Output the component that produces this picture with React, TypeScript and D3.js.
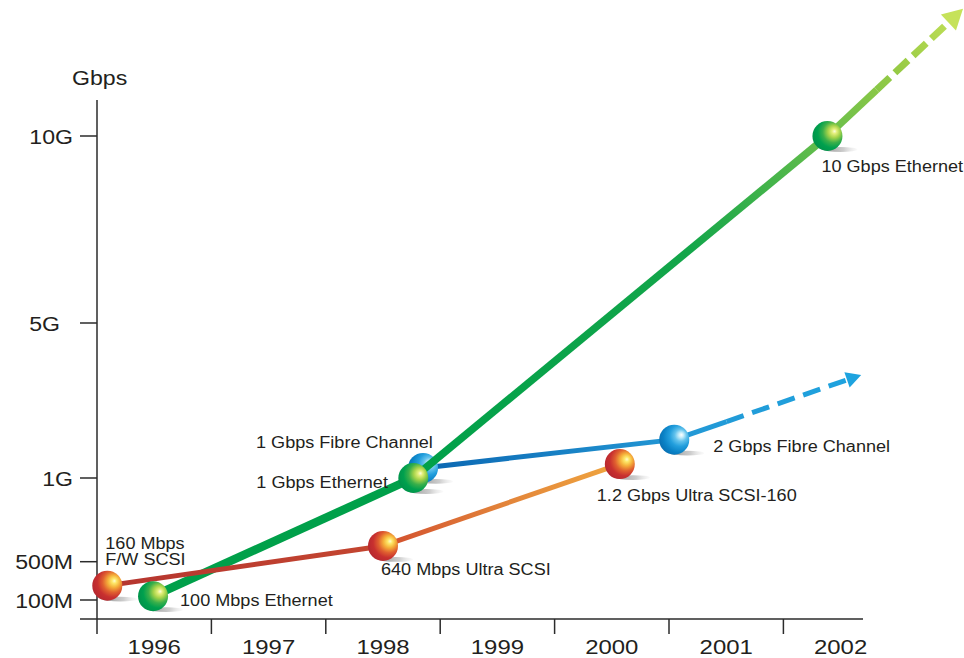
import React from 'react';
import * as d3 from 'd3';

// ---------- data ----------
const yTickValues = [0.1, 0.5, 1, 5, 10]; // Gbps
const yTickLabels = ['100M', '500M', '1G', '5G', '10G'];
const years = [1996, 1997, 1998, 1999, 2000, 2001, 2002];

// Ethernet milestones (fractional year, Gbps)
const ethernetX = [1996.49, 1998.765, 2002.385];
const ethernetY = [0.14, 1.0, 10.0];
const ethernetLabels = ['100 Mbps Ethernet', '1 Gbps Ethernet', '10 Gbps Ethernet'];
const ethernetTrend = [2003.57, 13.4];

// SCSI milestones
const scsiX = [1996.09, 1998.5, 2000.57];
const scsiY = [0.25, 0.594, 1.36];
const scsiLabels = ['160 Mbps\nF/W SCSI', '640 Mbps Ultra SCSI', '1.2 Gbps Ultra SCSI-160'];

// Fibre Channel milestones
const fcX = [1998.85, 2001.046];
const fcY = [1.26, 1.99];
const fcLabels = ['1 Gbps Fibre Channel', '2 Gbps Fibre Channel'];
const fcTrend = [2002.68, 3.66];

// ---------- layout ----------
const W = 964;
const H = 658;
const FONT = "'Liberation Sans', Arial, Helvetica, sans-serif";
const INK = '#231f20';

const x = d3.scaleLinear().domain([1996, 2003]).range([97, 897.8]);
const y = d3.scaleLinear().domain(yTickValues).range([600, 561.7, 478, 323, 136]);

// label offsets relative to their point (screen px)
const ethOff = [[27, 9.5], [-157, 10], [-6, 35.5]];
const scsiOff = [[-2, -36.5], [-2, 29], [-23, 37]];
const fcOff = [[-167, -20], [39, 12.5]];

const Txt = ({ x: tx, y: ty, size, sx = 1.13, anchor = 'start', children }: any) => (
  <text
    transform={`translate(${tx},${ty}) scale(${sx},1)`}
    fontSize={size}
    textAnchor={anchor}
    fontFamily={FONT}
    fill={INK}
  >
    {children}
  </text>
);

const Sphere = ({ cx, cy, grad }: any) => (
  <g>
    <ellipse cx={cx + 13} cy={cy + 13.5} rx={17} ry={2.4} fill="url(#shadowGrad)" />
    <circle cx={cx} cy={cy} r={15} fill={`url(#${grad})`} />
  </g>
);

function trendParts(p0: number[], tip: number[], solidFrac: number, headLen: number, headHalf: number) {
  const [x0, y0] = [x(p0[0]), y(p0[1])];
  const [x1, y1] = [x(tip[0]), y(tip[1])];
  const dx = x1 - x0;
  const dy = y1 - y0;
  const L = Math.hypot(dx, dy);
  const ux = dx / L;
  const uy = dy / L;
  const sx = x0 + dx * solidFrac;
  const sy = y0 + dy * solidFrac;
  const bx = x1 - ux * headLen;
  const by = y1 - uy * headLen;
  const nx = -uy;
  const ny = ux;
  const head = [
    [x1, y1],
    [bx + nx * headHalf, by + ny * headHalf],
    [bx - nx * headHalf, by - ny * headHalf],
  ];
  return {
    solid: d3.line()([[x0, y0], [sx, sy]]) as string,
    dashed: d3.line()([[sx, sy], [bx + ux * 2, by + uy * 2]]) as string,
    head: head.map((p) => p.join(',')).join(' '),
  };
}

const BallGrad = ({ id, stops }: any) => (
  <radialGradient id={id} cx="0.66" cy="0.4" r="0.78" fx="0.74" fy="0.34">
    {stops.map((s: any, i: number) => (
      <stop key={i} offset={s[0]} stopColor={s[1]} />
    ))}
  </radialGradient>
);

export default function App() {
  const eth = ethernetX.map((v, i) => [x(v), y(ethernetY[i])]);
  const scsi = scsiX.map((v, i) => [x(v), y(scsiY[i])]);
  const fc = fcX.map((v, i) => [x(v), y(fcY[i])]);
  const line = d3.line();

  const ethTrend = trendParts([ethernetX[2], ethernetY[2]], ethernetTrend, 0.363, 20, 11);
  const fcTr = trendParts([fcX[1], fcY[1]], fcTrend, 0.28, 15, 8);
  const ethTip = [x(ethernetTrend[0]), y(ethernetTrend[1])];
  const fcTip = [x(fcTrend[0]), y(fcTrend[1])];

  const yTickLen = 17;
  const axisX = x(1996);
  const axisY = 619;

  return (
    <svg width={W} height={H} style={{ position: 'absolute', left: 0, top: 0, background: '#fff' }}>
      <defs>
        <BallGrad
          id="redBall"
          stops={[[0, '#fffbd0'], [0.1, '#fde86a'], [0.26, '#f5b03a'], [0.46, '#e0602f'], [0.66, '#c8302f'], [1, '#ad2430']]}
        />
        <BallGrad
          id="greenBall"
          stops={[[0, '#fbfde0'], [0.1, '#e4ef7c'], [0.26, '#a6d34a'], [0.46, '#3aaf4a'], [0.66, '#00a04e'], [1, '#008c48']]}
        />
        <BallGrad
          id="blueBall"
          stops={[[0, '#ffffff'], [0.1, '#c8eefb'], [0.26, '#62c2ec'], [0.46, '#239fdd'], [0.7, '#0a82c6'], [1, '#0866a8']]}
        />
        <linearGradient id="shadowGrad" x1="0" x2="1" y1="0" y2="0">
          <stop offset="0" stopColor="#8f8f8f" stopOpacity="0.95" />
          <stop offset="0.6" stopColor="#b8b8b8" stopOpacity="0.7" />
          <stop offset="1" stopColor="#e6e6e6" stopOpacity="0.2" />
        </linearGradient>
        <linearGradient id="ethGrad" gradientUnits="userSpaceOnUse" x1={eth[1][0]} y1={eth[1][1]} x2={ethTip[0]} y2={ethTip[1]}>
          <stop offset="0" stopColor="#00a04a" />
          <stop offset="0.5" stopColor="#14a64a" />
          <stop offset="0.75" stopColor="#6abf4b" />
          <stop offset="0.88" stopColor="#98cb45" />
          <stop offset="1" stopColor="#c6e25a" />
        </linearGradient>
        <linearGradient id="fcGrad" gradientUnits="userSpaceOnUse" x1={fc[0][0]} y1={fc[0][1]} x2={fcTip[0]} y2={fcTip[1]}>
          <stop offset="0" stopColor="#0b66b1" />
          <stop offset="0.57" stopColor="#2398d5" />
          <stop offset="1" stopColor="#1ea3df" />
        </linearGradient>
        <linearGradient id="scsiGrad1" gradientUnits="userSpaceOnUse" x1={scsi[0][0]} y1={scsi[0][1]} x2={scsi[1][0]} y2={scsi[1][1]}>
          <stop offset="0" stopColor="#b5352f" />
          <stop offset="1" stopColor="#c44630" />
        </linearGradient>
        <linearGradient id="scsiGrad2" gradientUnits="userSpaceOnUse" x1={scsi[1][0]} y1={scsi[1][1]} x2={scsi[2][0]} y2={scsi[2][1]}>
          <stop offset="0" stopColor="#d24e2e" />
          <stop offset="0.5" stopColor="#e2833a" />
          <stop offset="1" stopColor="#f0a63f" />
        </linearGradient>
      </defs>

      {/* axes */}
      <g stroke="#2b2b2b" strokeWidth={1.5} fill="none">
        <line x1={axisX} x2={axisX} y1={100} y2={634} />
        <line x1={axisX - yTickLen} x2={863} y1={axisY} y2={axisY} />
        {yTickValues.map((v) => (
          <line key={v} x1={axisX - yTickLen} x2={axisX} y1={y(v)} y2={y(v)} />
        ))}
        {years.slice(1).map((yr) => (
          <line key={yr} x1={x(yr)} x2={x(yr)} y1={axisY} y2={634} />
        ))}
      </g>
      {yTickValues.map((v, i) => (
        <Txt key={v} x={yTickLabels[i] === '5G' ? 60 : 73} y={y(v) + 7.5} size={21} sx={1.1} anchor="end">
          {yTickLabels[i]}
        </Txt>
      ))}
      <Txt x={72} y={85} size={21} sx={1.1}>Gbps</Txt>
      {years.map((yr) => (
        <Txt key={yr} x={(x(yr) + x(yr + 1)) / 2} y={654} size={21} sx={1.14} anchor="middle">
          {String(yr)}
        </Txt>
      ))}

      {/* Fibre channel line (under green) */}
      <path d={line([fc[0], fc[1]]) as string} stroke="url(#fcGrad)" strokeWidth={5} fill="none" />
      <path d={fcTr.solid} stroke="url(#fcGrad)" strokeWidth={5} fill="none" />
      <path d={fcTr.dashed} stroke="url(#fcGrad)" strokeWidth={5} fill="none" strokeDasharray="18 9" />
      <polygon points={fcTr.head} fill="#1ea3df" />
      <Sphere cx={fc[0][0]} cy={fc[0][1]} grad="blueBall" />

      {/* Ethernet line */}
      <path d={line([eth[0], eth[1]]) as string} stroke="#00a04a" strokeWidth={8.5} fill="none" />
      <path d={line([eth[1], eth[2]]) as string} stroke="url(#ethGrad)" strokeWidth={7.5} fill="none" />
      <path d={ethTrend.solid} stroke="url(#ethGrad)" strokeWidth={7} fill="none" />
      <path d={ethTrend.dashed} stroke="url(#ethGrad)" strokeWidth={7} fill="none" strokeDasharray="18 7" />
      <polygon points={ethTrend.head} fill="#c6e25a" />

      {/* SCSI lines */}
      <path d={line([scsi[0], scsi[1]]) as string} stroke="url(#scsiGrad1)" strokeWidth={5} fill="none" />
      <path d={line([scsi[1], scsi[2]]) as string} stroke="url(#scsiGrad2)" strokeWidth={5} fill="none" />

      {/* spheres */}
      <Sphere cx={fc[1][0]} cy={fc[1][1]} grad="blueBall" />
      {eth.map((p, i) => (
        <Sphere key={'e' + i} cx={p[0]} cy={p[1]} grad="greenBall" />
      ))}
      {scsi.map((p, i) => (
        <Sphere key={'s' + i} cx={p[0]} cy={p[1]} grad="redBall" />
      ))}

      {/* labels */}
      {eth.map((p, i) => (
        <Txt key={'el' + i} x={p[0] + ethOff[i][0]} y={p[1] + ethOff[i][1]} size={16}>
          {ethernetLabels[i]}
        </Txt>
      ))}
      {scsi.map((p, i) =>
        scsiLabels[i].split('\n').map((t, j) => (
          <Txt key={'sl' + i + j} x={p[0] + scsiOff[i][0]} y={p[1] + scsiOff[i][1] + j * 16} size={16}>
            {t}
          </Txt>
        ))
      )}
      {fc.map((p, i) => (
        <Txt key={'fl' + i} x={p[0] + fcOff[i][0]} y={p[1] + fcOff[i][1]} size={16}>
          {fcLabels[i]}
        </Txt>
      ))}
    </svg>
  );
}
